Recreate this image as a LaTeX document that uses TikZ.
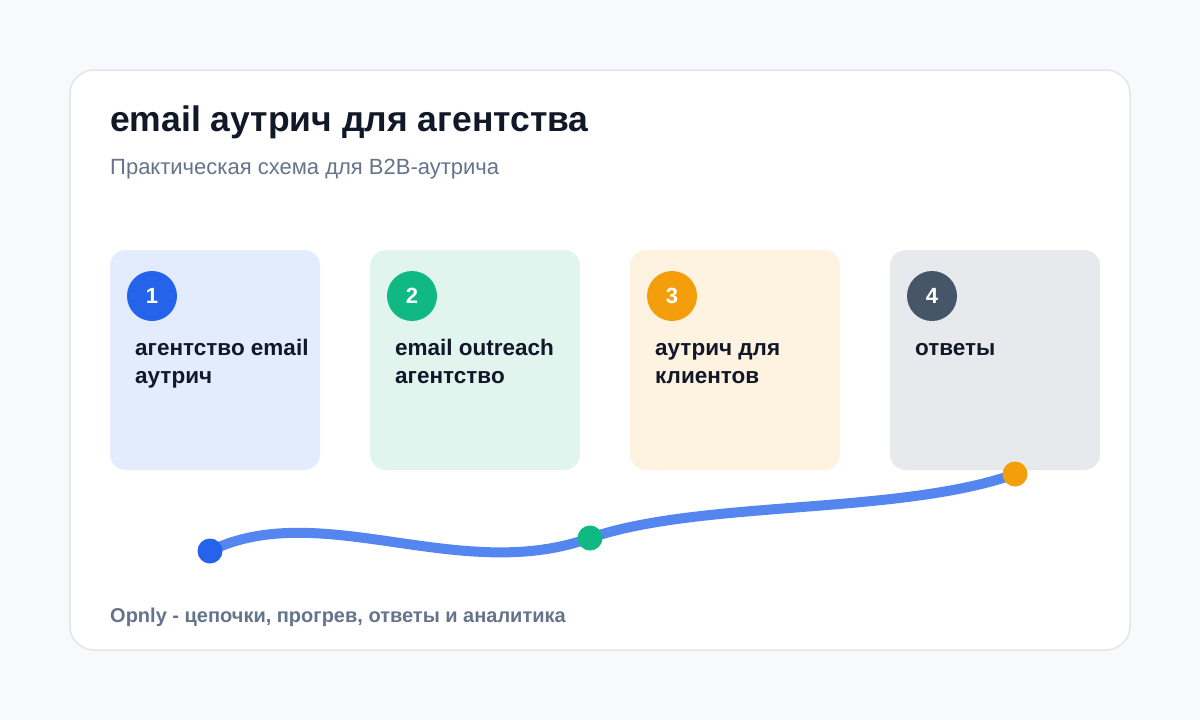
\documentclass[tikz,border=0pt]{standalone}
\usepackage{fontspec}
\setmainfont{Liberation Sans}
\definecolor{pagebg}{HTML}{F8F9FB}
\definecolor{cardborder}{HTML}{E3E5E9}
\definecolor{titlec}{HTML}{111827}
\definecolor{subc}{HTML}{64748B}
\definecolor{b1}{HTML}{E3ECFC}
\definecolor{b2}{HTML}{E1F5EE}
\definecolor{b3}{HTML}{FEF2E0}
\definecolor{b4}{HTML}{E8E9EC}
\definecolor{c1}{HTML}{2563EB}
\definecolor{c2}{HTML}{10B981}
\definecolor{c3}{HTML}{F59E0B}
\definecolor{c4}{HTML}{475569}
\definecolor{curvec}{HTML}{5585EE}
\begin{document}
\begin{tikzpicture}[x=1pt,y=-1pt,
  stepbox/.style={rounded corners=16pt},
  numdot/.style={circle,inner sep=0pt,minimum size=50pt,text=white,font=\bfseries\fontsize{22}{26}\selectfont},
  steptext/.style={anchor=base west,align=left,inner sep=0pt,text=titlec,font=\bfseries\fontsize{22.5}{28}\selectfont},
  enddot/.style={circle,inner sep=0pt,minimum size=25pt}]
\useasboundingbox (0,0) rectangle (1200,720);
\fill[pagebg] (0,0) rectangle (1200,720);
\draw[cardborder,fill=white,line width=1.5pt,rounded corners=24pt] (70,70) rectangle (1130,650);
\node[anchor=base west,inner sep=0pt,text=titlec,font=\bfseries\fontsize{35.5}{40}\selectfont] (title) at (110,131) {email аутрич для агентства};
\node[anchor=base west,inner sep=0pt,text=subc,font=\fontsize{22}{26}\selectfont] (sub) at (110,174) {Практическая схема для B2B-аутрича};
% boxes
\fill[b1,stepbox] (110,250) rectangle (320,470);
\fill[b2,stepbox] (370,250) rectangle (580,470);
\fill[b3,stepbox] (630,250) rectangle (840,470);
\fill[b4,stepbox] (890,250) rectangle (1100,470);
\node[numdot,fill=c1] (n1) at (152,296) {1};
\node[numdot,fill=c2] (n2) at (412,296) {2};
\node[numdot,fill=c3] (n3) at (672,296) {3};
\node[numdot,fill=c4] (n4) at (932,296) {4};
\node[steptext] (t1) at (135,383) {агентство email\\аутрич};
\node[steptext] (t2) at (395,383) {email outreach\\агентство};
\node[steptext] (t3) at (655,383) {аутрич для\\клиентов};
\node[steptext] (t4) at (915,355) {ответы};
% curve
\coordinate (p1) at (210,551);
\coordinate (p2) at (590,538);
\coordinate (p3) at (1015,474);
\draw[curvec,line width=10pt,line cap=round] (p1) .. controls (320,497) and (460,585) .. (p2) .. controls (700,500) and (900,515) .. (p3);
\node[enddot,fill=c1] (d1) at (p1) {};
\node[enddot,fill=c2] (d2) at (p2) {};
\node[enddot,fill=c3] (d3) at (p3) {};
\node[anchor=base west,inner sep=0pt,text=subc,font=\bfseries\fontsize{20}{24}\selectfont] (foot) at (110,622) {Opnly - цепочки, прогрев, ответы и аналитика};
\end{tikzpicture}
\end{document}
